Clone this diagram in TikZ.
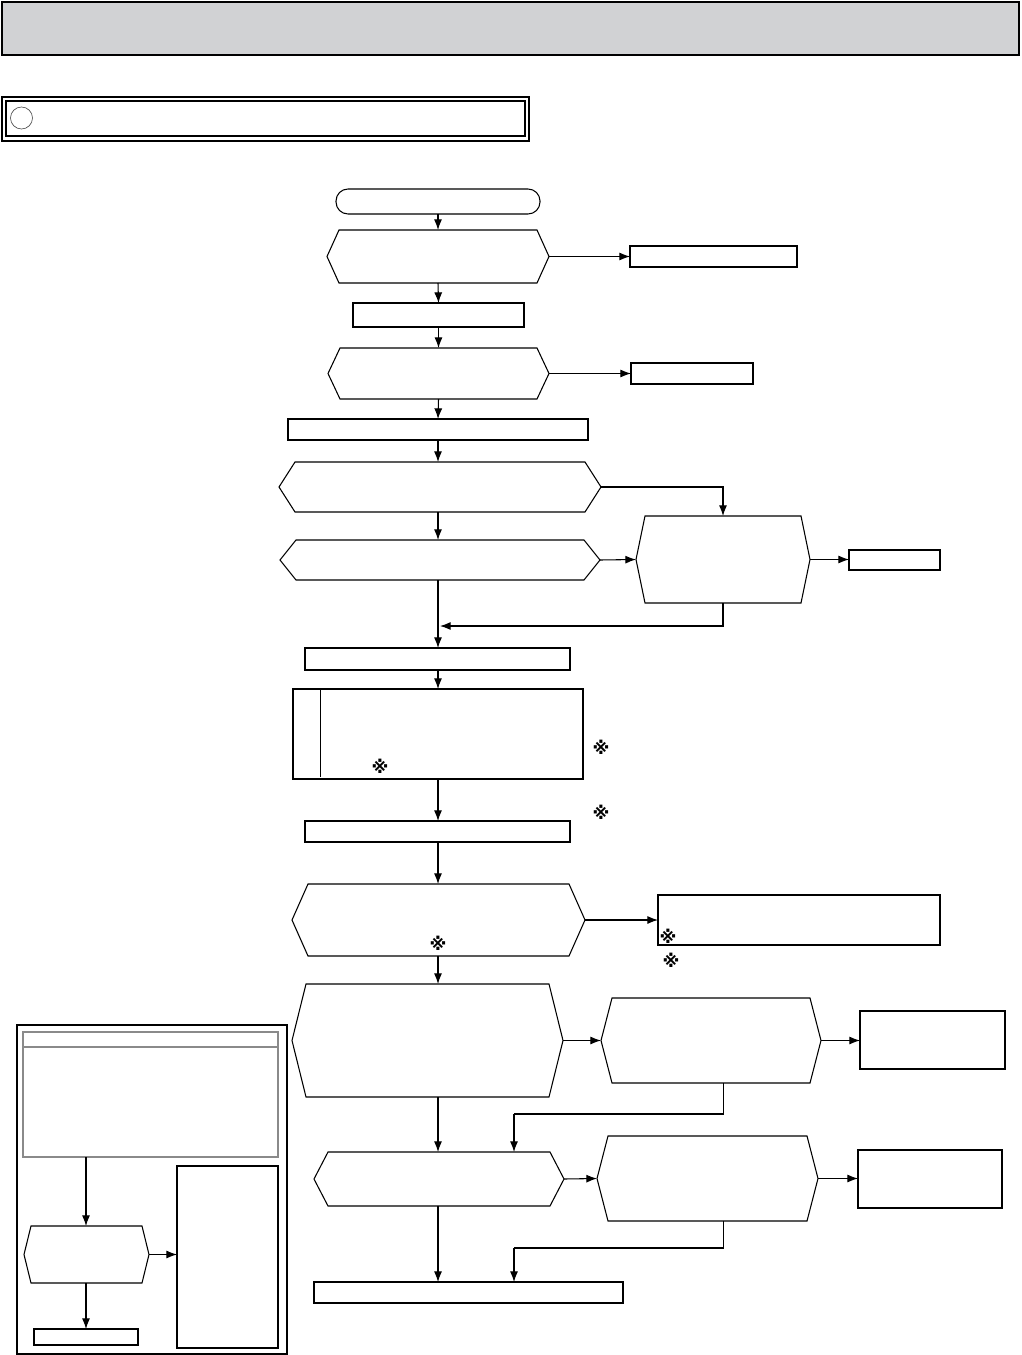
\documentclass[tikz,border=0pt]{standalone}
\usepackage{fontspec}
\newfontfamily\refmarkfont{DejaVu Sans}
\usetikzlibrary{arrows.meta,calc}
\definecolor{barfill}{HTML}{D1D2D4}
\definecolor{panelgray}{HTML}{8A8A8A}
\tikzset{
  thinline/.style={draw=black,line width=0.8pt},
  thickbox/.style={draw=black,line width=1.6pt},
  arr/.style={draw=black,line width=0.8pt,-{Latex[length=8pt,width=6pt]}},
  conn/.style={draw=black,line width=0.8pt},
  refm/.style={inner sep=0pt,font=\refmarkfont\bfseries\fontsize{13}{13}\selectfont},
  ghost/.style={draw=none,inner sep=0pt,outer sep=0pt,rectangle},
}
% rectangle node from pixel corners
\newcommand\bx[6][thinline]{\node[#1,inner sep=0pt,outer sep=0pt,rectangle,
  minimum width={(#5-#3)*0.75pt},minimum height={(#6-#4)*0.75pt}]
  (#2) at ({(#3+#5)/2},{(#4+#6)/2}) {};}
% hexagon node from pixel extents and corner offset
\newcommand\hx[6]{\node[ghost,
  minimum width={(#4-#2)*0.75pt},minimum height={(#5-#3)*0.75pt}]
  (#1) at ({(#2+#4)/2},{(#3+#5)/2}) {};
  \draw[thinline,line join=miter] (#1.west) -- ([xshift={#6*0.75pt}]#1.north west)
   -- ([xshift={-#6*0.75pt}]#1.north east) -- (#1.east)
   -- ([xshift={-#6*0.75pt}]#1.south east) -- ([xshift={#6*0.75pt}]#1.south west) -- cycle;}
\begin{document}
\begin{tikzpicture}[x=0.75pt,y=-0.75pt]
\useasboundingbox (0,0) rectangle (1021,1355);
% title bar
\bx[draw=black,line width=1.5pt,fill=barfill]{title}{2}{2}{1019}{55}
% header box
\bx[draw=black,line width=0.8pt]{hdrout}{2}{97}{529}{141}
\bx[draw=black,line width=1.1pt]{hdrin}{6}{101}{525}{136}
\node[draw=black!70,line width=0.5pt,circle,minimum size=16.5pt,inner sep=0pt] (hdrc) at (21.5,118) {};
% coordinate for main column
\coordinate (colx) at (438,0);
% start terminal
\node[thinline,rounded corners=9pt,inner sep=0pt,outer sep=0pt,
  minimum width={204*0.75pt},minimum height={25*0.75pt}] (start) at (438,201.5) {};
% flow nodes
\hx{h1}{327}{230}{549}{283}{12}
\bx[thickbox]{b1}{630}{246}{797}{267}
\bx{b2}{353}{303}{524}{327}
\hx{h2}{328}{348}{549}{399}{12}
\bx[thickbox]{b3}{631}{363}{753}{384}
\bx{b4}{288}{419}{588}{440}
\hx{h3}{279}{462}{601}{512}{16}
\hx{h4}{280}{540}{600}{580}{16}
\hx{h5}{636}{516}{810}{603}{9}
\bx[thickbox]{b5}{849}{550}{940}{570}
\bx{b6}{305}{648}{570}{670}
\bx{b7}{293}{689}{583}{779}
\draw[conn] (320.5,689) -- (320.5,777);
\bx{b8}{305}{821}{570}{842}
\hx{h6}{292}{884}{585}{956}{16}
\bx[thickbox]{b9}{658}{895}{940}{945}
\hx{h7}{292}{984}{563}{1097}{14}
\hx{h8}{601}{998}{821}{1083}{11}
\bx[thickbox]{b10}{860}{1011}{1005}{1069}
\hx{h9}{314}{1152}{564}{1206}{14}
\hx{h10}{597}{1136}{818}{1221}{11}
\bx[thickbox]{b11}{858}{1150}{1002}{1208}
\bx[thickbox]{b12}{314}{1282}{623}{1303}
% reference marks
\node[refm] (r1) at (380,766) {※};
\node[refm] (r2) at (601,747) {※};
\node[refm] (r3) at (601,812) {※};
\node[refm] (r4) at (438,943) {※};
\node[refm] (r5) at (668,936) {※};
\node[refm] (r6) at (671,960) {※};
% connectors main column
\draw[arr] (start.south) -- (h1.north);
\draw[arr] (h1.south) -- (b2.north);
\draw[arr] (b2.south) -- (h2.north);
\draw[arr] (h2.south) -- (b4.north);
\draw[arr] (colx |- b4.south) -- (colx |- h3.north);
\draw[arr] (colx |- h3.south) -- (colx |- h4.north);
\draw[arr] (colx |- h4.south) -- (colx |- b6.north);
\draw[arr] (colx |- b6.south) -- (colx |- b7.north);
\draw[arr] (colx |- b7.south) -- (colx |- b8.north);
\draw[arr] (colx |- b8.south) -- (colx |- h6.north);
\draw[arr] (colx |- h6.south) -- (colx |- h7.north);
\draw[arr] (colx |- h7.south) -- (colx |- h9.north);
\draw[arr] (colx |- h9.south) -- (colx |- b12.north);
% side connectors
\draw[arr] (h1.east) -- (h1.east -| b1.west);
\draw[arr] (h2.east) -- (h2.east -| b3.west);
\draw[arr] (h3.east) -| (h5.north);
\draw[arr] (h4.east) -- (h5.west);
\draw[arr] (h5.east) -- (h5.east -| b5.west);
\coordinate (j1) at (440,626);
\draw[arr] (h5.south) |- (j1);
\draw[arr] (h6.east) -- (h6.east -| b9.west);
\draw[arr] (h7.east) -- (h8.west);
\draw[arr] (h8.east) -- (h8.east -| b10.west);
\coordinate (h8b) at (723.5,1083);
\coordinate (m1) at (514,1114);
\draw[conn] (h8b) |- (m1);
\draw[arr] (m1) -- (m1 |- h9.north);
\draw[arr] (h9.east) -- (h10.west);
\draw[arr] (h10.east) -- (h10.east -| b11.west);
\coordinate (h10b) at (723.5,1221);
\coordinate (m2) at (514,1248);
\draw[conn] (h10b) |- (m2);
\draw[arr] (m2) -- (m2 |- b12.north);
% left panel
\bx[draw=black,line width=0.9pt]{panel}{17}{1025}{287}{1354}
\bx[draw=panelgray,line width=1pt]{ib}{23}{1032}{278}{1157}
\draw[draw=panelgray,line width=0.8pt] (23,1047) -- (278,1047);
\coordinate (coll) at (86,0);
\hx{h11}{24}{1226}{149}{1283}{7}
\bx[thickbox]{tall}{177}{1166}{278}{1348}
\bx[thickbox]{sm}{34}{1329}{138}{1345}
\draw[arr] (coll |- ib.south) -- (coll |- h11.north);
\draw[arr] (h11.east) -- (h11.east -| tall.west);
\draw[arr] (coll |- h11.south) -- (coll |- sm.north);
\end{tikzpicture}
\end{document}
